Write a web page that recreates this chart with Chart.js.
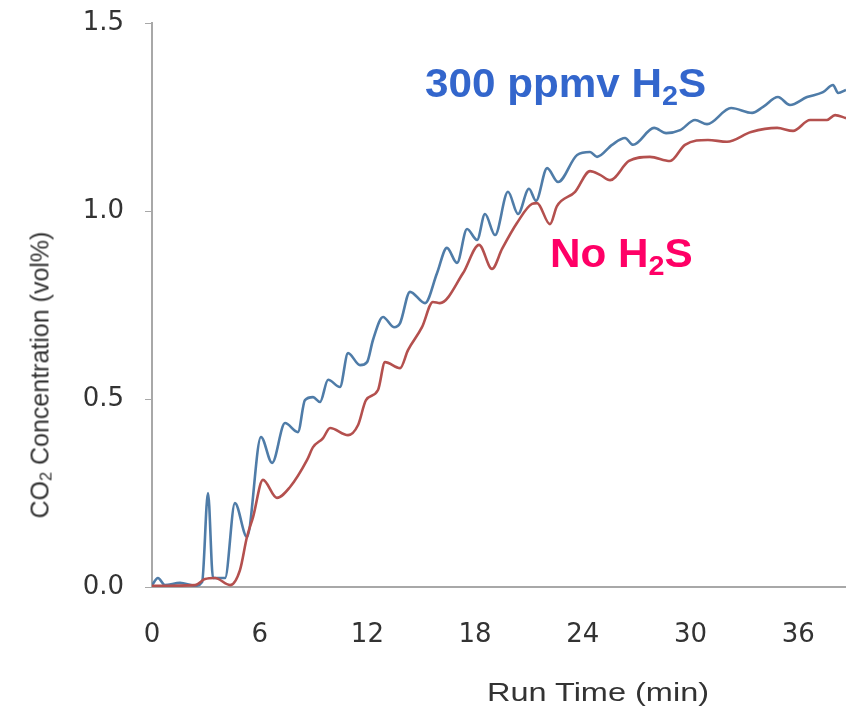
<!DOCTYPE html>
<html>
<head>
<meta charset="utf-8">
<script src="https://cdn.jsdelivr.net/npm/chart.js@4/dist/chart.umd.min.js"></script>
<style>
  html, body { margin: 0; padding: 0; background: #fff; }
  #wrap { position: relative; width: 846px; height: 715px; overflow: hidden; }
  canvas { position: absolute; left: 0; top: 0; }
  .lbl { position: absolute; white-space: nowrap; font-family: "Liberation Sans", Arial, sans-serif; line-height: 1; }
  .ann { font-weight: bold; font-size: 41px; transform: scaleX(1.03); transform-origin: left top; }
  .ann sub { font-size: 0.68em; vertical-align: -0.28em; line-height: 0; }
  .axt { color: #333; font-size: 26px; }
  .axt sub { font-size: 0.65em; vertical-align: -0.2em; line-height: 0; }
</style>
</head>
<body>
<div id="wrap">
  <canvas id="myChart" width="846" height="715"></canvas>
  <div class="lbl ann" style="left:425px; top:63px; color:#3366cc;">300 ppmv H<sub>2</sub>S</div>
  <div class="lbl ann" style="left:550px; top:233px; color:#ff0066;">No H<sub>2</sub>S</div>
  <div class="lbl axt" id="xTitle" style="left:598px; top:679px; transform: translateX(-50%) scaleX(1.25);">Run Time (min)</div>
  <div class="lbl axt" id="yTitle" style="left:40px; top:375px; font-size:25px; transform: translate(-50%, -50%) rotate(-90deg);">CO<sub>2</sub> Concentration (vol%)</div>
</div>
<script>
// serie con 300 ppmv H2S (azul)
let tiempoH2S = [0, 0.33, 0.72, 1.56, 2.40, 2.79, 3.12, 3.40, 4.07, 4.62, 5.29, 6.07, 6.69, 7.41, 8.13, 8.52, 8.97, 9.36, 9.81, 10.47,
  10.92, 11.59, 11.98, 12.31, 12.87, 13.48, 13.82, 14.37, 15.21, 15.88, 16.43, 16.99, 17.55, 18.11, 18.55, 19.11, 19.83, 20.39, 21.0, 21.39,
  22.01, 22.62, 23.68, 24.40, 24.79, 25.63, 26.35, 26.80, 27.97, 28.64, 29.42, 30.25, 30.92, 32.26, 33.43, 34.04, 34.87, 35.54, 36.49, 37.38,
  37.94, 38.22, 38.66];
let co2H2S = [0.005, 0.024, 0.005, 0.011, 0.003, 0.013, 0.25, 0.024, 0.024, 0.223, 0.133, 0.399, 0.330, 0.436, 0.412, 0.497, 0.505, 0.492, 0.551, 0.532,
  0.622, 0.590, 0.598, 0.657, 0.718, 0.691, 0.702, 0.785, 0.755, 0.835, 0.902, 0.862, 0.952, 0.923, 0.992, 0.936, 1.051, 0.992, 1.059, 1.027,
  1.114, 1.077, 1.149, 1.157, 1.144, 1.176, 1.194, 1.176, 1.221, 1.207, 1.215, 1.242, 1.231, 1.274, 1.261, 1.277, 1.303, 1.282, 1.303, 1.316,
  1.335, 1.314, 1.322];

// serie sin H2S (roja)
let tiempoSin = [0, 2.40, 2.95, 3.51, 4.35, 4.90, 5.29, 5.63, 6.18, 6.96, 7.69, 8.64, 8.97, 9.53, 9.92, 10.92, 11.48, 11.92, 12.59, 12.98,
  13.82, 14.26, 15.04, 15.65, 16.04, 17.33, 18.22, 18.94, 19.50, 20.33, 21.17, 21.45, 22.17, 22.56, 23.57, 24.40, 24.96, 25.52, 26.57, 27.74,
  28.86, 29.69, 30.97, 32.03, 33.37, 34.82, 35.71, 36.66, 37.60, 38.05, 38.66];
let co2Sin = [0.003, 0.005, 0.021, 0.024, 0.005, 0.045, 0.133, 0.186, 0.285, 0.237, 0.266, 0.338, 0.372, 0.396, 0.423, 0.404, 0.431, 0.497, 0.524, 0.598,
  0.582, 0.630, 0.691, 0.758, 0.755, 0.835, 0.910, 0.846, 0.899, 0.968, 1.019, 1.021, 0.965, 1.013, 1.051, 1.106, 1.096, 1.082, 1.133, 1.144,
  1.133, 1.176, 1.189, 1.184, 1.210, 1.221, 1.213, 1.242, 1.242, 1.255, 1.247];

let ejeX = { min: 0, max: 38.66, paso: 6 };
let ejeY = { min: 0, max: 1.5, paso: 0.5 };

function puntos(xs, ys) {
  return xs.map((x, i) => ({ x: x, y: ys[i] }));
}

var ctx = document.getElementById('myChart').getContext('2d');
let chart = new Chart(ctx, {
  type: 'line',
  data: {
    datasets: [{
      label: 'No H2S',
      data: puntos(tiempoSin, co2Sin),
      borderColor: '#b4504e',
      borderWidth: 2.6,
      pointRadius: 0,
      cubicInterpolationMode: 'monotone'
    }, {
      label: '300 ppmv H2S',
      data: puntos(tiempoH2S, co2H2S),
      borderColor: '#4f7ca8',
      borderWidth: 2.6,
      pointRadius: 0,
      cubicInterpolationMode: 'monotone'
    }]
  },
  options: {
    responsive: false,
    animation: false,
    layout: { padding: { top: 23, right: 0, left: 0, bottom: 0 } },
    plugins: { legend: { display: false }, tooltip: { enabled: false } },
    scales: {
      x: {
        type: 'linear',
        min: ejeX.min, max: ejeX.max,
        grid: { drawOnChartArea: false, drawTicks: false },
        border: { color: '#a8a8a8', width: 2 },
        ticks: {
          stepSize: ejeX.paso, includeBounds: false, padding: 33,
          color: '#333', font: { family: 'DejaVu Sans', size: 26 }
        },
        afterFit: function(s) { s.height = 128; s.paddingLeft = 0; s.paddingRight = 0; }
      },
      y: {
        min: ejeY.min, max: ejeY.max,
        grid: { drawOnChartArea: false, drawTicks: true, tickLength: 7, color: '#a8a8a8' },
        border: { color: '#a8a8a8', width: 2 },
        ticks: {
          stepSize: ejeY.paso, padding: 21,
          color: '#333', font: { family: 'DejaVu Sans', size: 26 },
          callback: v => v.toFixed(1)
        },
        afterFit: function(s) { s.width = 152; s.paddingTop = 0; s.paddingBottom = 0; }
      }
    }
  }
});
</script>
</body>
</html>
